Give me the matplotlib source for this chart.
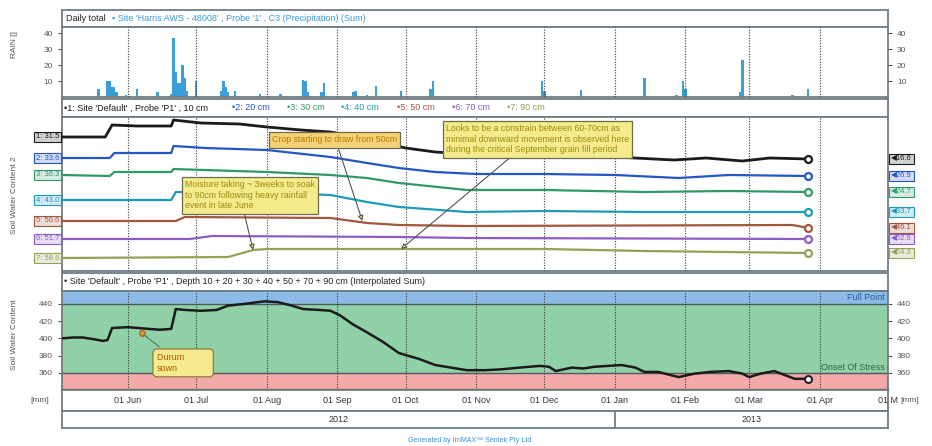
import matplotlib.pyplot as plt
import matplotlib.colors as mcolors
import pandas as pd

plt.rcParams['font.family'] = ['Liberation Sans', 'DejaVu Sans']

W, H = 932, 446

# daily rainfall, mm
rain_dates = ['2012-05-19', '2012-05-23', '2012-05-24', '2012-05-25', '2012-05-26',
              '2012-05-27', '2012-05-31', '2012-06-05', '2012-06-14', '2012-06-20',
              '2012-06-21', '2012-06-22', '2012-06-23', '2012-06-24', '2012-06-25',
              '2012-06-26', '2012-06-27', '2012-07-01', '2012-07-12', '2012-07-13',
              '2012-07-14', '2012-07-15', '2012-07-18', '2012-07-29', '2012-08-07',
              '2012-08-17', '2012-08-18', '2012-08-19', '2012-08-25', '2012-08-26',
              '2012-09-08', '2012-09-09', '2012-09-14', '2012-09-18', '2012-09-29',
              '2012-10-12', '2012-10-13', '2012-11-30', '2012-12-01', '2012-12-17',
              '2013-01-14', '2013-01-28', '2013-01-31', '2013-02-01', '2013-02-25',
              '2013-02-26', '2013-03-20', '2013-03-27']
rain_mm = [5, 10, 10, 6, 6,
           3, 1.5, 5, 3, 2,
           37, 16, 9, 9, 20,
           12, 4, 10, 4, 10,
           6, 3, 4, 2, 2,
           11, 10, 3, 3, 9,
           3, 4, 1, 7, 4,
           5, 10, 10, 4, 4.5,
           12, 1, 10, 5, 3,
           23, 1, 5]

# soil water content per depth (chart units, each trace on its own offset)
depth_names = ['1: Site \'Default\' , Probe \'P1\' , 10 cm', '2: 20 cm', '3: 30 cm',
               '4: 40 cm', '5: 50 cm', '6: 70 cm', '7: 90 cm']
depth_colors = ['#1b1b1b', '#2456c8', '#2f9a68', '#1f9ab6', '#a2573c', '#8a5cc8', '#93a255']
start_labels = ['1: 31.5', '2: 33.6', '3: 36.3', '4: 43.0', '5: 50.6', '6: 51.7', '7: 58.6']
end_labels = ['16.6', '26.9', '24.7', '33.7', '46.1', '52.6', '54.3']

d1_dates = ['2012-05-03', '2012-05-22', '2012-05-25', '2012-06-05', '2012-06-20', '2012-06-21',
            '2012-07-03', '2012-07-20', '2012-08-01', '2012-08-16', '2012-08-29', '2012-09-10',
            '2012-09-21', '2012-10-01', '2012-10-14', '2012-10-28', '2012-11-15', '2012-12-01',
            '2013-01-01', '2013-01-27', '2013-02-10', '2013-02-26', '2013-03-10', '2013-03-27']
d1_vals = [134, 134, 146, 145, 145, 151,
           148, 147, 144, 141, 139, 134,
           128, 123, 119, 117, 115, 114,
           114, 111, 113, 110, 113, 112]

d2_dates = ['2012-05-03', '2012-05-24', '2012-05-26', '2012-06-20', '2012-06-21', '2012-07-05',
            '2012-08-01', '2012-08-29', '2012-09-14', '2012-09-28', '2012-10-14', '2012-11-01',
            '2012-12-01', '2013-01-01', '2013-01-29', '2013-02-20', '2013-03-27']
d2_vals = [113, 113, 118, 118, 125, 123,
           121, 114, 108, 103, 99, 97,
           97, 96, 93, 96, 95]

d3_dates = ['2012-05-03', '2012-05-24', '2012-05-26', '2012-06-20', '2012-06-21', '2012-08-01',
            '2012-08-29', '2012-09-14', '2012-09-28', '2012-10-28', '2012-12-01', '2013-01-14',
            '2013-02-20', '2013-03-27']
d3_vals = [96, 95, 99, 99, 102, 99,
           96, 93, 88, 81, 81, 79,
           80, 79]

d4_dates = ['2012-05-03', '2012-06-20', '2012-06-22', '2012-08-01', '2012-08-29', '2012-09-14',
            '2012-09-28', '2012-10-28', '2012-12-01', '2013-01-14', '2013-03-27']
d4_vals = [71, 71, 79, 78, 76, 69,
           64, 59, 60, 59, 59]

d5_dates = ['2012-05-03', '2012-06-22', '2012-06-26', '2012-08-29', '2012-09-14', '2012-09-28',
            '2012-10-28', '2013-03-20', '2013-03-27']
d5_vals = [50, 50, 54, 53, 48, 46,
           45, 46, 43]

d6_dates = ['2012-05-03', '2012-06-28', '2012-07-08', '2012-09-28', '2012-10-28', '2013-03-27']
d6_vals = [32, 32, 35, 34, 33, 32]

d7_dates = ['2012-05-03', '2012-07-15', '2012-07-26', '2012-08-01', '2012-12-01', '2013-01-14',
            '2013-03-27']
d7_vals = [13, 14, 21, 22, 22, 20, 18]

depth_dates = [d1_dates, d2_dates, d3_dates, d4_dates, d5_dates, d6_dates, d7_dates]
depth_vals = [d1_vals, d2_vals, d3_vals, d4_vals, d5_vals, d6_vals, d7_vals]

# profile total (interpolated sum), mm
sum_dates = ['2012-05-03', '2012-05-08', '2012-05-12', '2012-05-17', '2012-05-21', '2012-05-23',
             '2012-05-25', '2012-06-01', '2012-06-10', '2012-06-15', '2012-06-20', '2012-06-22',
             '2012-06-26', '2012-07-03', '2012-07-10', '2012-07-15', '2012-07-22', '2012-07-31',
             '2012-08-06', '2012-08-12', '2012-08-17', '2012-08-24', '2012-08-29', '2012-09-02',
             '2012-09-08', '2012-09-14', '2012-09-21', '2012-09-28', '2012-10-07', '2012-10-14',
             '2012-10-21', '2012-10-28', '2012-11-05', '2012-11-12', '2012-11-20', '2012-11-29',
             '2012-12-03', '2012-12-06', '2012-12-13', '2012-12-18', '2012-12-23', '2013-01-04',
             '2013-01-10', '2013-01-14', '2013-01-20', '2013-01-29', '2013-02-05', '2013-02-12',
             '2013-02-20', '2013-02-26', '2013-03-01', '2013-03-06', '2013-03-12', '2013-03-18',
             '2013-03-21', '2013-03-27']
sum_vals = [400, 401, 401, 399, 397, 398,
            412, 413, 411, 410, 411, 434,
            433, 432, 433, 438, 440, 443,
            442, 438, 434, 433, 432, 427,
            416, 407, 396, 383, 376, 369,
            366, 363, 363, 364, 366, 368,
            367, 362, 366, 365, 367, 369,
            366, 361, 361, 355, 359, 361,
            362, 359, 355, 359, 362, 356,
            353, 353]
full_point = 440
onset_of_stress = 360
sown_date, sown_val = '2012-06-07', 406

month_labels = ['01 Jun', '01 Jul', '01 Aug', '01 Sep', '01 Oct', '01 Nov', '01 Dec',
                '01 Jan', '01 Feb', '01 Mar', '01 Apr', '01 May']
year_labels = ['2012', '2013']

x_start = pd.Timestamp('2012-05-03')
x_end = pd.Timestamp('2013-05-01')
months = pd.date_range('2012-06-01', '2013-05-01', freq='MS')
frame = '#6f7c84'
L, R = 62, 888


def rect(x0, y0, x1, y1):
    return [x0 / W, 1 - y1 / H, (x1 - x0) / W, (y1 - y0) / H]


def frame_style(ax):
    for s in ax.spines.values():
        s.set_color(frame)
        s.set_linewidth(1.3)


def strip(y0, y1):
    ax = fig.add_axes(rect(L, y0, R, y1))
    ax.set_xticks([])
    ax.set_yticks([])
    ax.set_xlim(x_start, x_end)
    ax.set_ylim(0, 1)
    frame_style(ax)
    return ax


def panel(y0, y1):
    ax = fig.add_axes(rect(L, y0, R, y1))
    ax.set_xlim(x_start, x_end)
    frame_style(ax)
    for m in months:
        ax.axvline(m, color='#3a3a3a', lw=0.8, ls=(0, (1, 1.4)), zorder=3)
    ax.set_xticks([])
    return ax


def px(x):
    return (x - L) / (R - L)


def tint(c, k=0.8):
    r, g, b = mcolors.to_rgb(c)
    return (r + (1 - r) * k, g + (1 - g) * k, b + (1 - b) * k)


fig = plt.figure(figsize=(W / 100, H / 100), dpi=100)

# ---- rainfall ----
h = strip(10, 27)
h.text(px(66), 0.5, 'Daily total', transform=h.transAxes, fontsize=6.5, va='center',
       color='#222')
h.text(px(112), 0.5, '\u25aa Site \'Harris AWS - 48008\' , Probe \'1\' , C3 (Precipitation) (Sum)',
       transform=h.transAxes, fontsize=6.5, va='center', color='#3a9ad8')

ax = panel(27, 97)
ax.bar(pd.to_datetime(rain_dates), rain_mm, width=1.0, color='#3a9fd8', zorder=2)
ax.set_ylim(0, 44)
ax.set_yticks([10, 20, 30, 40])
ax.tick_params(axis='y', labelsize=6, colors='#555', length=3,
               left=True, right=True, labelleft=True, labelright=True)
fig.text(15 / W, 1 - 45 / H, 'RAIN []', rotation=90, fontsize=6, color='#555',
         ha='center', va='center')

# ---- soil water content by depth ----
h = strip(99, 117)
head_x = [64, 232, 287, 341, 397, 452, 507]
for name, c, x in zip(depth_names, depth_colors, head_x):
    h.text(px(x), 0.5, '\u2022' + name, transform=h.transAxes, fontsize=6.5, va='center',
           color=c)

ax = panel(117, 271)
ax.set_ylim(0, 154)
ax.set_yticks([])
for dts, vals, c, sl, el in zip(depth_dates, depth_vals, depth_colors, start_labels, end_labels):
    dts = pd.to_datetime(dts)
    lw = 2.0 if c == '#1b1b1b' else 1.6
    ax.plot(dts, vals, color=c, lw=lw, zorder=4)
    ax.plot(dts[-1], vals[-1], 'o', ms=5, mfc='white', mec=c, mew=1.6, zorder=5)
    yt = ax.get_yaxis_transform()
    ax.text(-0.003, vals[0], sl, transform=yt, ha='right', va='center', fontsize=5.5,
            color=c, clip_on=False,
            bbox=dict(boxstyle='square,pad=0.25', fc=tint(c), ec=c, lw=0.8))
    ax.text(1.004, vals[-1], '\u25c0' + el, transform=yt, ha='left', va='center',
            fontsize=5.5, color=c, clip_on=False,
            bbox=dict(boxstyle='square,pad=0.25', fc=tint(c), ec=c, lw=0.8))
fig.text(15 / W, 1 - 195 / H, 'Soil Water Content 2', rotation=90, fontsize=6, color='#555',
         ha='center', va='center')

note_box = dict(boxstyle='square,pad=0.35', fc='#f4eb8c', ec='#6b6b50', lw=0.9)
note_arrow = dict(arrowstyle='-|>,head_length=0.5,head_width=0.25', color='#555', lw=0.8,
                  fc='#e8df80', shrinkA=0, shrinkB=0)

ax.annotate('Moisture taking ~ 3weeks to soak\nto 90cm following heavy rainfall\nevent in late June',
            xy=(pd.Timestamp('2012-07-26'), 21), xytext=(px(185), (271 - 180) / 154),
            textcoords='axes fraction', ha='left', va='top', fontsize=6.3, color='#a08a10',
            linespacing=1.25, bbox=note_box, zorder=6,
            arrowprops=dict(note_arrow, relpos=(0.45, 0.0)))
ax.annotate('Crop starting to draw from 50cm',
            xy=(pd.Timestamp('2012-09-12'), 50), xytext=(px(272), (271 - 140) / 154),
            textcoords='axes fraction', ha='left', va='center', fontsize=6.3, color='#b87a00',
            bbox=dict(note_box, fc='#f5d278'), zorder=6,
            arrowprops=dict(note_arrow, relpos=(0.52, 0.0)))
ax.annotate('Looks to be a constrain between 60-70cm as\nminimal downward movement is observed here\n'
            'during the critical September grain fill period',
            xy=(pd.Timestamp('2012-09-29'), 22), xytext=(px(446), (271 - 124) / 154),
            textcoords='axes fraction', ha='left', va='top', fontsize=6.3, color='#a08a10',
            linespacing=1.25, bbox=note_box, zorder=6,
            arrowprops=dict(note_arrow, relpos=(0.37, 0.0)))

# ---- profile total ----
h = strip(273, 291)
h.text(px(64), 0.5, '\u2022 Site \'Default\' , Probe \'P1\' , Depth 10 + 20 + 30 + 40 + 50 + 70 + 90 cm '
       '(Interpolated Sum)', transform=h.transAxes, fontsize=6.5, va='center', color='#222')

ax = panel(291, 390)
ax.set_ylim(340, 455)
ax.axhspan(full_point, 455, color='#8dbbe8', zorder=0)
ax.axhspan(onset_of_stress, full_point, color='#90d1a8', zorder=0)
ax.axhspan(340, onset_of_stress, color='#f4a9a9', zorder=0)
ax.axhline(full_point, color='#4a5a60', lw=1.0, zorder=1)
ax.axhline(onset_of_stress, color='#4a5a60', lw=1.0, zorder=1)
ax.spines['bottom'].set_color('#222')
ax.spines['bottom'].set_linewidth(1.6)
sd = pd.to_datetime(sum_dates)
ax.plot(sd, sum_vals, color='#1b1b1b', lw=1.8, zorder=4)
ax.plot(sd[-1], sum_vals[-1], 'o', ms=5, mfc='white', mec='#1b1b1b', mew=1.4, zorder=5)
ax.plot(pd.Timestamp(sown_date), sown_val, 'o', ms=4, color='#e59a3a', mec='#b06a20', zorder=5)
ax.set_yticks([360, 380, 400, 420, 440])
ax.tick_params(axis='y', labelsize=6, colors='#555', length=3,
               left=True, right=True, labelleft=True, labelright=True)
ax.text(0.996, full_point + 2, 'Full Point', transform=ax.get_yaxis_transform(), ha='right',
        va='bottom', fontsize=6.5, color='#2d5c9c', zorder=6)
ax.text(0.996, onset_of_stress + 1, 'Onset Of Stress', transform=ax.get_yaxis_transform(),
        ha='right', va='bottom', fontsize=6.5, color='#2c6a40', zorder=6)
ax.annotate('Durum          \nsown', xy=(pd.Timestamp(sown_date), sown_val),
            xytext=(px(157), (390 - 353) / 99), textcoords='axes fraction', ha='left', va='top',
            fontsize=6.5, color='#b05a00', linespacing=1.25,
            bbox=dict(boxstyle='round,pad=0.45', fc='#f6e98e', ec='#8a7a40', lw=0.9), zorder=6,
            arrowprops=dict(arrowstyle='-', color='#4a7a60', lw=0.8, relpos=(0.2, 1.0)))
fig.text(15 / W, 1 - 335 / H, 'Soil Water Content', rotation=90, fontsize=6, color='#555',
         ha='center', va='center')

# ---- date and year rows ----
ax = strip(390, 411)
for m, lab in zip(months[:-1], month_labels[:-1]):
    ax.text(m, 0.5, lab, ha='center', va='center', fontsize=6.5, color='#333', clip_on=True)
# last month label sits on the right edge and is cut by the row frame
ax.text(months[-1], 0.5, month_labels[-1][:4], ha='center', va='center', fontsize=6.5,
        color='#333')
fig.text(40 / W, 1 - 400 / H, '[mm]', fontsize=6, color='#555', ha='center', va='center')
fig.text(910 / W, 1 - 400 / H, '[mm]', fontsize=6, color='#555', ha='center', va='center')

ax = strip(411, 428)
ny = pd.Timestamp('2013-01-01')
ax.axvline(ny, color=frame, lw=1.3)
ax.text(x_start + (ny - x_start) / 2, 0.5, year_labels[0], ha='center', va='center',
        fontsize=6.5, color='#333')
ax.text(ny + (x_end - ny) / 2, 0.5, year_labels[1], ha='center', va='center',
        fontsize=6.5, color='#333')

fig.text(470 / W, 1 - 440 / H, 'Generated by IrriMAX\u2122 Sentek Pty Ltd', fontsize=5,
         color='#3b8fd0', ha='center', va='center')

fig.savefig('out.png', dpi=100)
